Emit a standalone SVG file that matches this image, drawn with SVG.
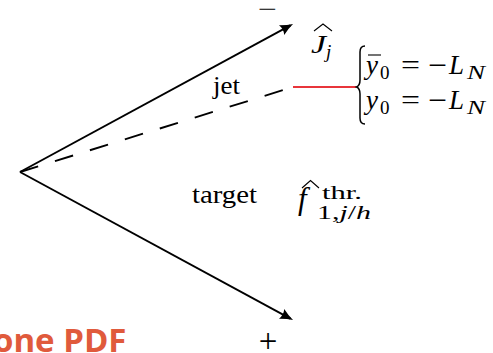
<svg xmlns="http://www.w3.org/2000/svg" width="493" height="353" viewBox="0 0 493 353">
<style>
.ln{fill:none;stroke:#000;stroke-width:1.9}
.t{font-family:"Liberation Serif","DejaVu Serif",serif;fill:#000}
.i{font-style:italic}
.s{font-size:19px}
.m{font-size:27px}
.wm{font-family:"Open Sans","Noto Sans",sans-serif;font-weight:bold;font-size:33px;fill:#e05a3c}
</style>
<defs>
<marker id="ah" markerUnits="userSpaceOnUse" markerWidth="20" markerHeight="20" viewBox="-16 -8 20 16" refX="-3" refY="0" orient="auto">
<path d="M0,0 Q-6,-1.6 -13,-5.5 Q-10.5,0 -13,5.5 Q-6,1.6 0,0 Z" fill="#000"/>
</marker>
</defs>
<rect width="493" height="353" fill="#fff"/>
<g id="connectors">
<line class="ln" x1="20" y1="172" x2="290.4" y2="25.4" marker-end="url(#ah)"/>
<line class="ln" x1="20" y1="172" x2="290.4" y2="318.6" marker-end="url(#ah)"/>
<line class="ln" x1="20" y1="172" x2="293" y2="87" stroke-dasharray="19 17.6"/>
<line x1="293" y1="87" x2="356" y2="87" stroke="#e8353b" stroke-width="2"/>
<path d="M365,46 C361,46 360,48 360,52 L360,80 C360,84 359,86 356.5,87 C359,88 360,90 360,94 L360,118 C360,122 361,124 365,124" fill="none" stroke="#000" stroke-width="1.5"/>
</g>
<g id="minus"><text class="t" x="267.5" y="17" font-size="24" textLength="19" lengthAdjust="spacingAndGlyphs" text-anchor="middle">−</text></g>
<g id="plus"><text class="t" x="268" y="352" font-size="33" text-anchor="middle">+</text></g>
<g id="Jhat">
<path d="M314,31 L323,24 L332,31" fill="none" stroke="#000" stroke-width="1.1"/>
<text class="t i" x="311" y="53" font-size="25" textLength="15" lengthAdjust="spacingAndGlyphs">J</text>
<text class="t i s" x="326" y="58">j</text>
</g>
<g id="jet"><text class="t" x="213" y="94" font-size="26" textLength="27" lengthAdjust="spacingAndGlyphs">jet</text></g>
<g id="eq1">
<line x1="368" y1="55" x2="381" y2="55" stroke="#000" stroke-width="1.1"/>
<text class="t i m" x="366" y="74">y</text>
<text class="t s" x="380" y="79">0</text>
<text class="t m" x="401" y="74" textLength="19" lengthAdjust="spacingAndGlyphs">=</text>
<text class="t m" x="428" y="74" textLength="19" lengthAdjust="spacingAndGlyphs">−</text>
<text class="t i m" x="449" y="74">L</text>
<text class="t i s" x="467" y="79" textLength="18" lengthAdjust="spacingAndGlyphs">N</text>
</g>
<g id="eq2">
<text class="t i m" x="366" y="109">y</text>
<text class="t s" x="380" y="114">0</text>
<text class="t m" x="401" y="109" textLength="19" lengthAdjust="spacingAndGlyphs">=</text>
<text class="t m" x="428" y="109" textLength="19" lengthAdjust="spacingAndGlyphs">−</text>
<text class="t i m" x="449" y="109">L</text>
<text class="t i s" x="467" y="114" textLength="18" lengthAdjust="spacingAndGlyphs">N</text>
</g>
<g id="target"><text class="t" x="192" y="203" font-size="26" textLength="65" lengthAdjust="spacingAndGlyphs">target</text></g>
<g id="fhat">
<path d="M302,188 L310.5,180.5 L319,188" fill="none" stroke="#000" stroke-width="1.1"/>
<text class="t i" x="298" y="209" font-size="31">f</text>
<text class="t" x="322" y="199" font-size="18" textLength="40" lengthAdjust="spacingAndGlyphs">thr.</text>
<text class="t" x="317" y="219" font-size="19" textLength="54" lengthAdjust="spacingAndGlyphs">1,<tspan font-style="italic">j</tspan>/<tspan font-style="italic">h</tspan></text>
</g>
<g id="watermark"><text class="wm" x="-7" y="352">one PDF</text></g>
</svg>
